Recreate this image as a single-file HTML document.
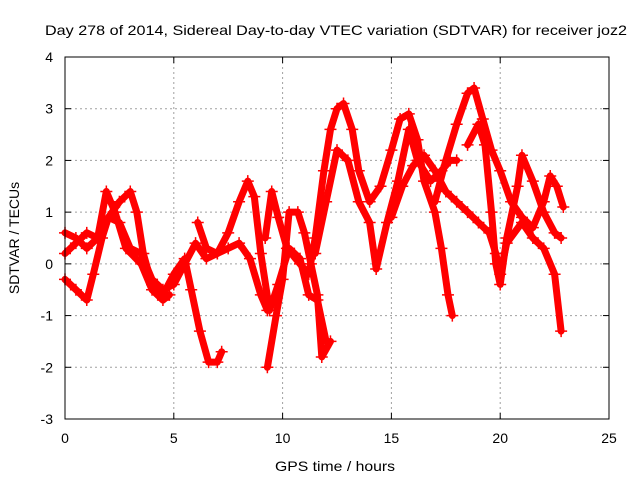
<!DOCTYPE html>
<html><head><meta charset="utf-8"><style>
body{margin:0;background:#fff;}
svg text{font-family:"Liberation Sans",sans-serif;fill:#000;}
</style></head><body>
<svg id="chart" width="640" height="480">
<text x="336" y="35" font-size="14" text-anchor="middle" textLength="582" lengthAdjust="spacingAndGlyphs">Day 278 of 2014, Sidereal Day-to-day VTEC variation (SDTVAR) for receiver joz2</text>
<text x="335" y="471" font-size="14" text-anchor="middle" textLength="120" lengthAdjust="spacingAndGlyphs">GPS time / hours</text>
<text transform="translate(19,238) rotate(-90)" font-size="14" text-anchor="middle">SDTVAR / TECUs</text>
<g id="grid"></g><g id="ticks"></g><g id="series"></g>
<rect x="65" y="57" width="544" height="362" fill="none" stroke="#000" stroke-width="1"/>
</svg>
<script>
const xTicks=[0,5,10,15,20,25];
const yTicks=[-3,-2,-1,0,1,2,3,4];
const track1=[[0,-0.3],[0.5,-0.5],[1,-0.7],[1.3,-0.2],[1.7,0.5],[2,0.9],[2.5,1.2],[3,1.4],[3.3,1.0],[3.6,0.2],[4,-0.4],[4.5,-0.6],[5,-0.2],[5.5,0.1],[5.8,-0.5],[6.2,-1.3],[6.6,-1.9],[7,-1.9],[7.2,-1.7]];
const track2=[[0,0.6],[0.5,0.5],[1,0.3],[1.5,0.5],[2,0.9],[2.5,0.8],[3,0.3],[3.5,0.2],[4,-0.3],[4.5,-0.5],[5,-0.4],[5.5,0.0],[6,0.4],[6.5,0.1],[7,0.2],[7.5,0.3],[8,0.4],[8.5,0.1],[9,-0.6],[9.3,-0.9]];
const track3=[[0,0.2],[0.5,0.4],[1,0.6],[1.5,0.5],[1.9,1.4],[2.3,1.0],[2.8,0.3],[3.5,0.0],[4,-0.5],[4.5,-0.7],[4.8,-0.6]];
const track4=[[6.1,0.8],[6.5,0.3],[7,0.2],[7.5,0.6],[8,1.2],[8.4,1.6],[8.7,1.3],[9,0.2],[9.4,-0.9],[9.8,-0.4],[10.3,0.3],[10.8,0.1],[11.2,-0.6],[11.6,-0.7],[12,-1.5]];
const track5=[[9.3,-2.0],[9.7,-1.0],[10,-0.3],[10.3,1.0],[10.7,1.0],[11,0.6],[11.3,0.0],[11.6,-0.6],[11.8,-1.8],[12.2,-1.5]];
const track6=[[9.2,0.5],[9.5,1.4],[9.8,0.9],[10.2,0.3],[10.8,0.0],[11.2,-0.2],[11.5,0.5],[11.9,1.8],[12.2,2.6],[12.5,3.0],[12.8,3.1],[13.2,2.6],[13.5,1.8],[14,1.2],[14.5,1.5],[15,2.2],[15.4,2.8],[15.8,2.9],[16.2,2.4],[16.5,1.6],[17,1.0],[17.3,0.3],[17.6,-0.6],[17.8,-1.0]];
const track7=[[11.5,0.2],[12,1.2],[12.5,2.2],[13,2.0],[13.5,1.2],[14,0.8],[14.3,-0.1],[14.8,0.8],[15.3,1.6],[15.8,2.6],[16.2,2.0],[16.8,1.6],[17.3,1.8],[17.7,2.0],[18,2.0]];
const track8=[[15,0.9],[15.5,1.5],[16,1.9],[16.5,2.1],[17,1.8],[17.5,1.4],[18,1.2],[18.5,1.0],[19,0.8],[19.5,0.6],[19.8,0.2],[20,-0.2],[20.3,0.4],[21,0.8],[21.5,0.5],[22,0.3],[22.5,-0.2],[22.8,-1.3]];
const track9=[[17,1.2],[17.5,2.0],[18,2.7],[18.5,3.3],[18.8,3.4],[19.2,2.8],[19.6,2.2],[20,1.8],[20.5,1.2],[21,0.9],[21.5,0.7],[22,1.2],[22.3,1.7],[22.6,1.5],[22.9,1.1]];
const track10=[[18.5,2.3],[19,2.7],[19.3,2.3],[19.6,1.0],[19.8,0.0],[20,-0.4],[20.3,0.5],[20.8,1.5],[21,2.1],[21.5,1.6],[22,1.0],[22.5,0.6],[22.8,0.5]];
const tracks=[track1,track2,track3,track4,track5,track6,track7,track8,track9,track10];

const NS="http://www.w3.org/2000/svg";
const X0=65,X1=609,Y0=419,Y1=57;
function sx(v){return X0+(v-0)/(25-0)*(X1-X0);}
function sy(v){return Y0-(v+3)/(4+3)*(Y0-Y1);}
function mk(tag,attrs,parent){const e=document.createElementNS(NS,tag);for(const k in attrs)e.setAttribute(k,attrs[k]);parent.appendChild(e);return e;}
const grid=document.getElementById('grid'),ticks=document.getElementById('ticks'),series=document.getElementById('series');
xTicks.forEach(t=>{
  const x=sx(t);
  if(t>0&&t<25){const g=mk('line',{x1:x,x2:x,y1:Y0,y2:Y1,stroke:'#a0a0a0','stroke-dasharray':'2,3','stroke-width':1},grid);
  
  }
  const tx=mk('text',{x:x,y:Y0+24,'font-size':14,'text-anchor':'middle'},ticks);tx.textContent=t;
  
  
  mk('line',{x1:x,x2:x,y1:Y0,y2:Y0-6,stroke:'#000'},ticks);
  mk('line',{x1:x,x2:x,y1:Y1,y2:Y1+6,stroke:'#000'},ticks);
});
yTicks.forEach(t=>{
  const y=sy(t);
  if(t>-3&&t<4){const g=mk('line',{x1:X0,x2:X1,y1:y,y2:y,stroke:'#a0a0a0','stroke-dasharray':'2,3','stroke-width':1},grid);
  
  }
  const tx=mk('text',{x:X0-12,y:y+5,'font-size':14,'text-anchor':'end'},ticks);tx.textContent=t;
  
  
  mk('line',{x1:X0,x2:X0+6,y1:y,y2:y,stroke:'#000'},ticks);
  mk('line',{x1:X1,x2:X1-6,y1:y,y2:y,stroke:'#000'},ticks);
});
tracks.forEach((tr,i)=>{
  const pts=tr.map(p=>sx(p[0]).toFixed(1)+','+sy(p[1]).toFixed(1)).join(' ');
  const pl=mk('polyline',{points:pts,fill:'none',stroke:'#ff0000','stroke-width':7,'stroke-linejoin':'round','stroke-linecap':'round'},series);
  
  
  tr.forEach(p=>{
    const x=sx(p[0]),y=sy(p[1]);
    const m=mk('path',{d:`M${x-6},${y}H${x+6}M${x},${y-6}V${y+6}`,stroke:'#ff0000','stroke-width':1.5},series);
    
    
  });
});
</script>
</body></html>
